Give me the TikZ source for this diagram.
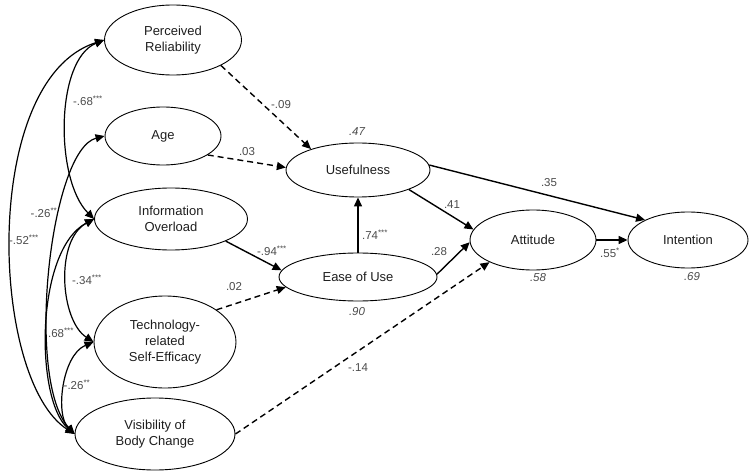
\documentclass[tikz,border=0pt]{standalone}
\usepackage{fontspec}
\setmainfont{Liberation Sans}
\usepackage{tikz}
\usetikzlibrary{positioning,arrows.meta,shapes.geometric}
\definecolor{nodetext}{RGB}{30,30,30}
\definecolor{coeftext}{RGB}{75,75,75}

\begin{document}
\begin{tikzpicture}[x=1pt, y=-1pt,
    latent/.style={ellipse, draw, line width=0.9pt, inner sep=0pt, align=center,
        font=\fontsize{13}{16}\selectfont, text=nodetext},
    causal/.style={line width=1.4pt, -{Triangle[length=9pt,width=8pt]}},
    nonsig/.style={causal, dash pattern=on 6pt off 4pt},
    covar/.style={line width=1.2pt, {Triangle[length=9pt,width=8pt]}-{Triangle[length=9pt,width=8pt]}},
    coef/.style={font=\fontsize{11.5}{13}\selectfont, text=coeftext, inner sep=1pt},
    rsq/.style={coef, font=\fontsize{11.5}{13}\selectfont\itshape}]
    \useasboundingbox (0,0) rectangle (752,473);

    % Exogenous constructs
    \node[latent, minimum width=137pt, minimum height=70pt] (rel) at (173,40) {Perceived\\Reliability};
    \node[latent, minimum width=116pt, minimum height=58pt] (age) at (163,136) {Age};
    \node[latent, minimum width=153pt, minimum height=62pt] (ovl) at (171,219) {Information\\Overload};
    \node[latent, minimum width=142pt, minimum height=92pt] (tse) at (165,342) {Technology-\\related\\Self-Efficacy};
    \node[latent, minimum width=160pt, minimum height=72pt] (vis) at (155,434) {Visibility of\\Body Change};

    % Endogenous constructs
    \node[latent, minimum width=144pt, minimum height=54pt] (use) at (358,170) {Usefulness};
    \node[latent, minimum width=158pt, minimum height=48pt] (eou) at (358,277) {Ease of Use};
    \node[latent, minimum width=126pt, minimum height=60pt] (att) at (533,240) {Attitude};
    \node[latent, minimum width=120pt, minimum height=56pt] (int) at (688,240) {Intention};

    % Correlations
    \draw[covar] (rel.west) .. controls (-20,80) and (-10,380) .. (vis.west);
    \draw[covar] (rel.west) .. controls (55,60) and (55,180) .. (ovl.west);
    \draw[covar] (age.west) .. controls (50,150) and (25,380) .. (vis.west);
    \draw[covar] (ovl.west) .. controls (55,240) and (60,320) .. (tse.west);
    \draw[covar] (ovl.west) .. controls (35,250) and (35,400) .. (vis.west);
    \draw[covar] (tse.west) .. controls (62,355) and (55,415) .. (vis.west);

    % Paths
    \draw[nonsig] (rel.-28) -- (use.156);
    \draw[nonsig] (age.-23) -- (use.178);
    \draw[causal] (ovl.-22) -- (eou.175);
    \draw[nonsig] (tse.32) -- (eou.188);
    \draw[nonsig] (vis.east) -- (att.207);
    \draw[causal] (eou.north) -- (use.south);
    \draw[causal] (use.-21) -- (att.170);
    \draw[causal] (eou.2) -- (att.182);
    \draw[causal] (use.4) -- (int.155);
    \draw[causal] (att.east) -- (int.west);

    % Coefficients
    \foreach \n/\x/\y/\t in {k1/88/101/{-.68\textsuperscript{***}}, k2/44/213/{-.26\textsuperscript{**}},
        k3/24/240/{-.52\textsuperscript{***}}, k4/87/280/{-.34\textsuperscript{***}},
        k5/61/333/{.68\textsuperscript{***}}, k6/77/385/{-.26\textsuperscript{**}},
        k7/281/105/{-.09}, k8/247/152/{.03}, k9/272/251/{-.94\textsuperscript{***}},
        k10/234/287/{.02}, k11/375/235/{.74\textsuperscript{***}}, k12/452/205/{.41},
        k13/439/252/{.28}, k14/549/183/{.35}, k15/610/253/{.55\textsuperscript{*}},
        k16/358/368/{-.14}} {
        \node[coef] (\n) at (\x,\y) {\t};
    }

    % Explained variance
    \node[rsq] (r1) at (357,132) {.47};
    \node[rsq] (r2) at (357,312) {.90};
    \node[rsq] (r3) at (538,278) {.58};
    \node[rsq] (r4) at (692,277) {.69};
\end{tikzpicture}
\end{document}
